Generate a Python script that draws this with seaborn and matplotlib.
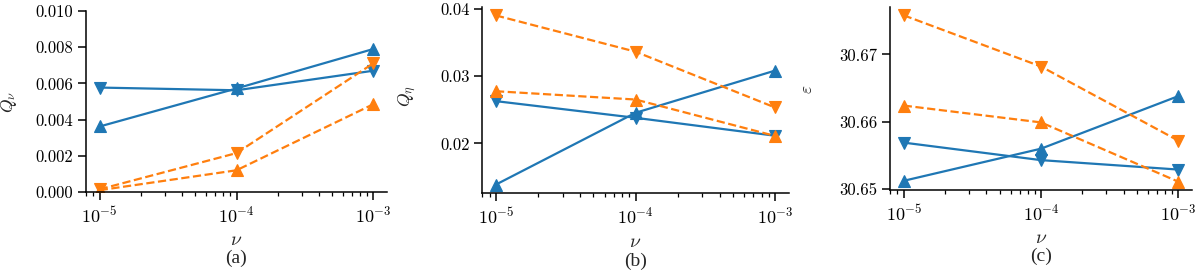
import numpy as np
import pandas as pd
import matplotlib
matplotlib.use("Agg")
import matplotlib.pyplot as plt
import matplotlib.ticker as mticker
import seaborn as sns

# ---- data ----
nu = [1e-5, 1e-4, 1e-3]

# panel (a) Q_nu
qnu_blue_up = [0.00362, 0.00572, 0.00790]
qnu_blue_down = [0.00577, 0.00562, 0.00670]
qnu_orange_up = [0.00010, 0.00120, 0.00485]
qnu_orange_down = [0.00015, 0.00215, 0.00711]

# panel (b) Q_eta
qeta_blue_up = [0.01389, 0.02453, 0.03079]
qeta_blue_down = [0.02626, 0.02379, 0.02113]
qeta_orange_up = [0.02773, 0.02650, 0.02110]
qeta_orange_down = [0.03897, 0.03360, 0.02532]

# panel (c) epsilon
eps_blue_up = [30.65123, 30.65600, 30.66380]
eps_blue_down = [30.65690, 30.65430, 30.65290]
eps_orange_up = [30.66240, 30.65990, 30.65110]
eps_orange_down = [30.67580, 30.66820, 30.65720]

ylabels = [r"$Q_\nu$", r"$Q_\eta$", r"$\varepsilon$"]
captions = ["(a)", "(b)", "(c)"]
xlabel = r"$\nu$"

BLUE = "#1f77b4"
ORANGE = "#ff7f0e"

sns.set_style("ticks")
plt.rcParams.update({
    "font.family": "serif",
    "font.serif": ["cmr10", "DejaVu Serif"],
    "mathtext.fontset": "cm",
    "axes.formatter.use_mathtext": True,
    "axes.unicode_minus": False,
    "font.size": 11,
    "axes.linewidth": 1.1,
    "xtick.major.width": 1.1,
    "ytick.major.width": 1.1,
    "xtick.minor.width": 0.9,
    "xtick.major.size": 5.5,
    "ytick.major.size": 5.5,
    "xtick.minor.size": 3.0,
    "xtick.labelsize": 13,
    "ytick.labelsize": 12,
    "axes.edgecolor": "black",
    "xtick.color": "black",
    "ytick.color": "black",
})

fig = plt.figure(figsize=(12, 2.76), dpi=100)
W, H = 1200, 276
boxes = [(86, 387, 11, 192), (482, 789, 7, 193), (890, 1192, 7, 190)]
axes = []
for (l, r, t, b) in boxes:
    axes.append(fig.add_axes([l / W, (H - b) / H, (r - l) / W, (b - t) / H]))

panels = [
    (qnu_blue_up, qnu_blue_down, qnu_orange_up, qnu_orange_down),
    (qeta_blue_up, qeta_blue_down, qeta_orange_up, qeta_orange_down),
    (eps_blue_up, eps_blue_down, eps_orange_up, eps_orange_down),
]

ylab_coords = [(-0.222, 0.50), (-0.21, 0.52), (-0.248, 0.55)]

for i, (ax, series) in enumerate(zip(axes, panels)):
    b_up, b_dn, o_up, o_dn = series
    for vals, color, marker, ls in [
        (b_up, BLUE, "^", "-"),
        (b_dn, BLUE, "v", "-"),
        (o_up, ORANGE, "^", "--"),
        (o_dn, ORANGE, "v", "--"),
    ]:
        df = pd.DataFrame({"nu": nu, "val": vals})
        sns.lineplot(data=df, x="nu", y="val", ax=ax, color=color,
                     marker=marker, markersize=8.5, markeredgewidth=0.8,
                     markeredgecolor=color, linestyle=ls, linewidth=1.6,
                     errorbar=None)
    ax.set_xscale("log")
    ax.set_xticks(nu)
    ax.xaxis.set_major_formatter(mticker.LogFormatterSciNotation())
    sns.despine(ax=ax)
    ax.set_ylabel(ylabels[i], fontsize=12.5)
    ax.yaxis.set_label_coords(*ylab_coords[i])
    ax.set_xlabel(xlabel, fontsize=14)
    ax.xaxis.set_label_coords(0.5, -0.215)
    ax.text(0.5, -0.365, captions[i], transform=ax.transAxes, ha="center",
            va="center", fontsize=14, family="Liberation Serif")
    ax.tick_params(axis="x", pad=4)

axes[0].set_ylim(0, 0.010)
axes[0].set_yticks([0.0, 0.002, 0.004, 0.006, 0.008, 0.010])
axes[0].yaxis.set_major_formatter(mticker.FormatStrFormatter("%.3f"))
axes[1].set_yticks([0.02, 0.03, 0.04])
axes[1].yaxis.set_major_formatter(mticker.FormatStrFormatter("%.2f"))
axes[2].set_yticks([30.65, 30.66, 30.67])
axes[2].yaxis.set_major_formatter(mticker.FormatStrFormatter("%.2f"))

fig.savefig("out.png", dpi=100)
